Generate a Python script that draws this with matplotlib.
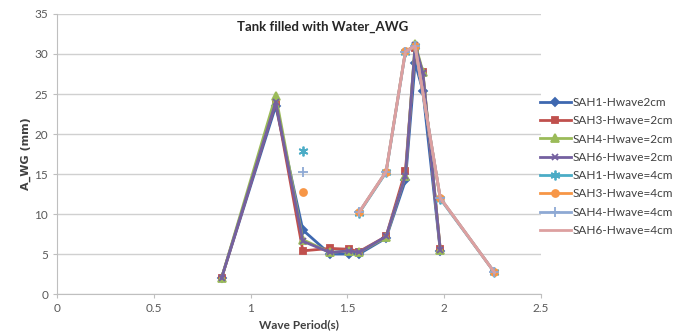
import numpy as np
import matplotlib
matplotlib.use('Agg')
from matplotlib import pyplot as plt

plt.rcParams['font.family'] = ['Lato', 'DejaVu Sans']

# wave periods (s) for the 2 cm runs
period_2cm = [0.85, 1.13, 1.27, 1.41, 1.51, 1.56, 1.70, 1.80, 1.85, 1.89, 1.98]
sah1_2cm = [2.0, 23.5, 8.0, 5.0, 5.0, 5.0, 7.0, 14.2, 28.9, 25.4, 5.4]
sah3_2cm = [2.0, 24.0, 5.4, 5.7, 5.6, 5.3, 7.2, 15.4, 30.8, 27.7, 5.6]
sah4_2cm = [2.0, 24.8, 6.8, 5.2, 5.4, 5.2, 7.1, 14.8, 31.3, 27.8, 5.5]
sah6_2cm = [2.0, 24.0, 6.6, 5.2, 5.4, 5.2, 7.2, 14.8, 31.1, 27.6, 5.5]

# wave periods (s) for the 4 cm runs, blanks where nothing was measured
nan = float('nan')
period_4cm = [1.27, 1.41, 1.51, 1.56, 1.70, 1.80, 1.85, 1.98, 2.26]
sah1_4cm = [17.9, nan, nan, 10.1, 15.2, 30.3, 31.0, 11.9, 2.7]
sah3_4cm = [12.7, nan, nan, 10.2, 15.3, 30.4, 31.0, 12.0, 2.7]
sah4_4cm = [15.2, nan, nan, 10.2, 15.3, 30.3, 31.0, 12.0, 2.7]
sah6_4cm = [15.0, nan, nan, 10.2, 15.3, 30.3, 31.0, 12.0, 2.7]

series = [
    (period_2cm, sah1_2cm, 'SAH1-Hwave2cm', '#3E68B0', 'D', 4),
    (period_2cm, sah3_2cm, 'SAH3-Hwave=2cm', '#C0504D', 's', 5),
    (period_2cm, sah4_2cm, 'SAH4-Hwave=2cm', '#9BBB59', '^', 5.5),
    (period_2cm, sah6_2cm, 'SAH6-Hwave=2cm', '#7460A0', 'x', 5),
    (period_4cm, sah1_4cm, 'SAH1-Hwave=4cm', '#4BACC6', (6, 2, 0), 7),
    (period_4cm, sah3_4cm, 'SAH3-Hwave=4cm', '#F79646', 'o', 5),
    (period_4cm, sah4_4cm, 'SAH4-Hwave=4cm', '#8EA9D4', '+', 7),
    (period_4cm, sah6_4cm, 'SAH6-Hwave=4cm', '#DDA0A0', 'None', 0),
]

fig = plt.figure(figsize=(6.83, 3.33), dpi=100)
ax = fig.add_axes([0.0835, 0.117, 0.7085, 0.841])

# later series are drawn over earlier ones
for x, y, label, colour, marker, ms in series:
    ax.plot(x, y, color=colour, lw=2.0, marker=marker, ms=ms,
            markeredgecolor=colour, markeredgewidth=1.3, label=label)

ax.set_xlim(0, 2.5)
ax.set_ylim(0, 35)
ax.set_xticks(np.arange(0, 2.51, 0.5))
ax.set_xticklabels(['0', '0.5', '1', '1.5', '2', '2.5'])
ax.set_yticks(np.arange(0, 36, 5))
ax.yaxis.grid(True, color='#D0D0D0', lw=1)
ax.set_axisbelow(True)
for side in ('top', 'right'):
    ax.spines[side].set_visible(False)
for side in ('left', 'bottom'):
    ax.spines[side].set_color('#BFBFBF')
ax.tick_params(colors='#BFBFBF', labelcolor='#595959', labelsize=8.5, length=3)

ax.set_xlabel('Wave Period(s)', fontsize=8.5, fontweight='bold', color='#404040', labelpad=4)
ax.set_ylabel('A_WG (mm)', fontsize=8, fontweight='bold', color='#404040', labelpad=2,
              family=['DejaVu Sans'])
fig.text(0.472, 0.918, 'Tank filled with Water_AWG', ha='center', va='center',
         fontsize=9.5, fontweight='bold', color='#262626')

fig.legend(loc='center left', bbox_to_anchor=(0.775, 0.5), frameon=False,
           fontsize=8.5, handlelength=2.6, labelspacing=0.62, handletextpad=0.2,
           labelcolor='#404040')

fig.savefig('out.png', dpi=100)
